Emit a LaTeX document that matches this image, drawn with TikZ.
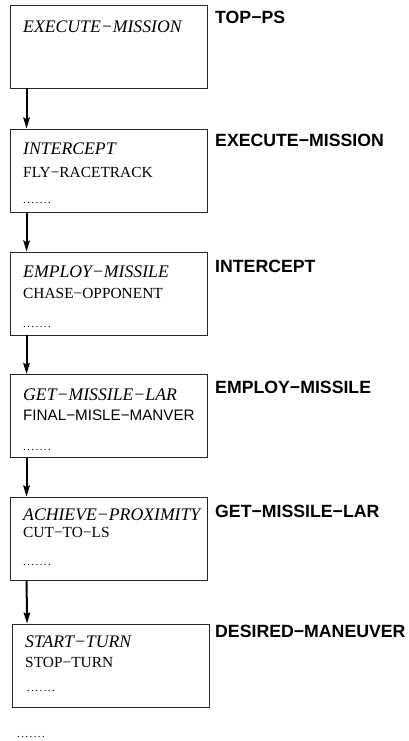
\documentclass[tikz,border=0pt]{standalone}
\usepackage{fontspec}
\setmainfont{Liberation Serif}
\setsansfont{Liberation Sans}
\usetikzlibrary{arrows.meta}
\newcommand{\mydotrow}{.\kern1.4pt.\kern1.4pt.\kern1.4pt.\kern1.4pt.\kern1.4pt.\kern1.4pt.}
\tikzset{
  boxs/.style={draw=black!85, line width=0.9pt, minimum width=197pt, minimum height=83pt, inner sep=0pt},
  arr/.style={line width=2pt, -{Stealth[length=11pt,width=6.5pt,inset=1.5pt]}},
  it/.style={anchor=west, inner sep=0pt, font=\fontsize{17.7}{19}\selectfont\itshape},
  rm/.style={anchor=west, inner sep=0pt, font=\fontsize{15.4}{17}\selectfont},
  sf/.style={anchor=west, inner sep=0pt, font=\fontsize{15.2}{17}\sffamily},
  dots/.style={anchor=base west, inner sep=0pt, font=\fontsize{11}{12}\selectfont},
  lab/.style={anchor=west, inner sep=0pt, font=\fontsize{17.7}{19}\sffamily\bfseries}
}
\begin{document}
\begin{tikzpicture}[x=1pt,y=-1pt]
\useasboundingbox (0,0) rectangle (408,741);
% boxes
\node[boxs] (b1) at (108.5,46.5) {};
\node[boxs] (b2) at (108.5,170.5) {};
\node[boxs] (b3) at (108.5,293.5) {};
\node[boxs] (b4) at (108.5,416) {};
\node[boxs] (b5) at (108.5,538.5) {};
\node[boxs] (b6) at (111,665.5) {};
% arrows
\draw[arr] ([xshift=17pt]b1.south west) -- ([xshift=17pt]b2.north west);
\draw[arr] ([xshift=17pt]b2.south west) -- ([xshift=17pt]b3.north west);
\draw[arr] ([xshift=17pt]b3.south west) -- ([xshift=17pt]b4.north west);
\draw[arr] ([xshift=17pt]b4.south west) -- ([xshift=17pt]b5.north west);
\draw[arr] ([xshift=17pt]b5.south west) -- ([xshift=15pt]b6.north west);
% box texts
\node[it] (t1) at (23,27) {EXECUTE−MISSION};
\node[it] (t2a) at (23,149) {INTERCEPT};
\node[rm] (t2b) at (23,172) {FLY−RACETRACK};
\node[dots] (t2c) at (23,203) {\mydotrow};
\node[it] (t3a) at (23,272) {EMPLOY−MISSILE};
\node[rm] (t3b) at (23,293) {CHASE−OPPONENT};
\node[dots] (t3c) at (23,327) {\mydotrow};
\node[it] (t4a) at (23,395) {GET−MISSILE−LAR};
\node[sf] (t4b) at (23,415) {FINAL−MISLE−MANVER};
\node[dots] (t4c) at (23,450) {\mydotrow};
\node[it] (t5a) at (23,515) {ACHIEVE−PROXIMITY};
\node[rm] (t5b) at (23,532) {CUT−TO−LS};
\node[dots] (t5c) at (23,565) {\mydotrow};
\node[it] (t6a) at (25,642) {START−TURN};
\node[rm] (t6b) at (25,662) {STOP−TURN};
\node[dots] (t6c) at (27,691) {\mydotrow};
\node[dots] (t7) at (17,737) {\mydotrow};
% labels
\node[lab] (l1) at (215,17) {TOP−PS};
\node[lab] (l2) at (215,140) {EXECUTE−MISSION};
\node[lab] (l3) at (215,266) {INTERCEPT};
\node[lab] (l4) at (215,387) {EMPLOY−MISSILE};
\node[lab] (l5) at (215,511) {GET−MISSILE−LAR};
\node[lab] (l6) at (215,631) {DESIRED−MANEUVER};
\end{tikzpicture}
\end{document}
